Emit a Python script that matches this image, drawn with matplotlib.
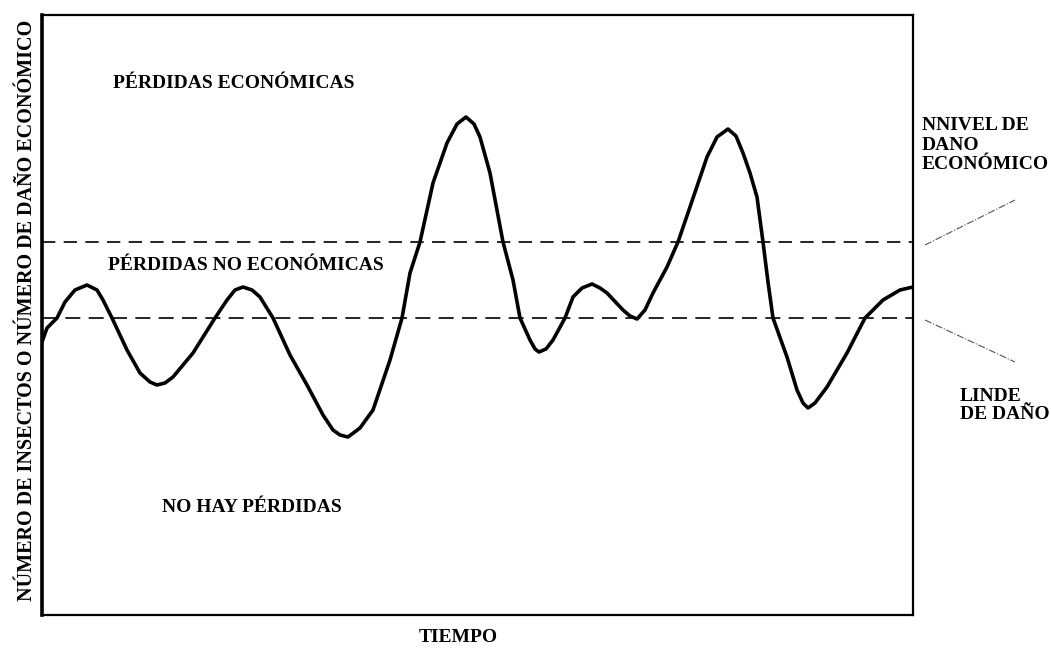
import matplotlib
matplotlib.use('Agg')
import matplotlib.pyplot as plt

# tiempo (unidades arbitrarias) y nivel de la población
tiempo = [0, 5, 15, 23, 33, 45, 55, 61, 70, 85, 98, 108, 115, 123, 131, 151,
          173, 185, 193, 201, 210, 218, 231, 248, 265, 281, 291, 298, 306, 318,
          331, 348, 360, 368, 378, 391, 405, 415, 424, 432, 438, 448, 461, 471,
          478, 488, 493, 497, 504, 511, 523, 531, 540, 550, 558, 565, 581, 588,
          595, 603, 611, 625, 636, 648, 665, 675, 686, 694, 701, 708, 715, 721,
          726, 731, 745, 755, 761, 766, 773, 785, 805, 823, 841, 858, 871]
poblacion = [273, 287, 297, 313, 325, 330, 325, 315, 297, 265, 242, 233, 230, 232,
             238, 262, 297, 315, 325, 328, 325, 318, 297, 260, 230, 200, 185, 180,
             178, 187, 205, 255, 297, 342, 373, 432, 472, 491, 498, 491, 478, 442,
             373, 335, 297, 275, 266, 263, 266, 275, 297, 318, 327, 331, 327, 322,
             305, 299, 296, 305, 322, 348, 373, 408, 458, 478, 486, 479, 462, 442,
             418, 373, 333, 297, 258, 225, 212, 207, 212, 228, 262, 297, 315, 325,
             328]

nivel_dano = 373   # nivel de daño económico
linde_dano = 297   # linde de daño

plt.rcParams['font.family'] = ['Liberation Serif', 'DejaVu Serif']
plt.rcParams['font.weight'] = 'bold'

fig = plt.figure(figsize=(10.51, 6.48), dpi=100)
ax = fig.add_axes([42 / 1051, 1 - 615 / 648, 871 / 1051, 600 / 648])

ax.plot(tiempo, poblacion, color='black', lw=2.6, solid_joinstyle='round',
        solid_capstyle='round')
ax.axhline(nivel_dano, color='black', lw=1.2, dashes=(8, 5))
ax.axhline(linde_dano, color='black', lw=1.2, dashes=(9, 5))

ax.set_xlim(0, 871)
ax.set_ylim(0, 600)
ax.set_xticks([])
ax.set_yticks([])
for side in ['top', 'right', 'bottom']:
    ax.spines[side].set_linewidth(1.6)
ax.spines['left'].set_linewidth(2.6)

fs = 14
ax.text(71, 532, 'PÉRDIDAS ECONÓMICAS', fontsize=fs, va='center', ha='left')
ax.text(66, 350, 'PÉRDIDAS NO ECONÓMICAS', fontsize=fs, va='center', ha='left')
ax.text(120, 108, 'NO HAY PÉRDIDAS', fontsize=fs, va='center', ha='left')

ax.text(880, 498, 'NNIVEL DE\nDANO\nECONÓMICO', fontsize=fs, va='top', ha='left',
        linespacing=1.2, clip_on=False)
ax.text(918, 227, 'LINDE\nDE DAÑO', fontsize=fs, va='top', ha='left',
        linespacing=1.1, clip_on=False)

# líneas de referencia hacia las etiquetas
ax.plot([883, 973], [370, 415], color='#555555', lw=0.8, ls='-.', clip_on=False)
ax.plot([883, 973], [295, 253], color='#555555', lw=0.8, ls='-.', clip_on=False)

fig.text(458 / 1051, 1 - 638 / 648, 'TIEMPO', fontsize=fs, ha='center', va='center')
fig.text(27 / 1051, 1 - 310 / 648, 'NÚMERO DE INSECTOS O NÚMERO DE DAÑO ECONÓMICO',
         fontsize=14.5, rotation=90, ha='center', va='center')

fig.savefig('out.png', dpi=100)
